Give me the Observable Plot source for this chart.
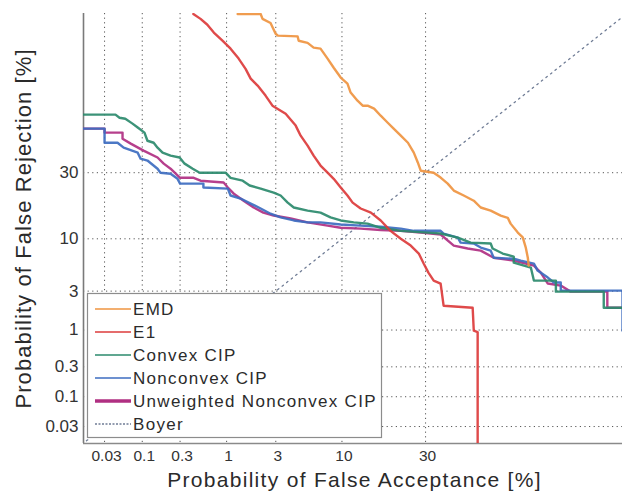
<!DOCTYPE html>
<html>
<head>
<meta charset="utf-8">
<script src="https://cdn.jsdelivr.net/npm/d3@7"></script>
<script src="https://cdn.jsdelivr.net/npm/@observablehq/plot@0.6"></script>
<style>
  html, body { margin: 0; padding: 0; background: #fff; }
  #chart { width: 623px; height: 499px; }
</style>
</head>
<body>
<div id="chart"></div>
<script>
// ---------- data (percentages) ----------
const xTicks = [0.03, 0.1, 0.3, 1, 3, 10, 30];
const yTicks = [0.03, 0.1, 0.3, 1, 3, 10, 30];
const xDomainPct = [0.0146, 89.6];
const yDomainPct = [0.0144, 90.3];
const xTitle = "Probability of False Acceptance [%]";
const yTitle = "Probability of False Rejection [%]";

const seriesNames = ["EMD", "E1", "Convex CIP", "Nonconvex CIP", "Unweighted Nonconvex CIP", "Boyer"];
const seriesColors = ["#ef9440", "#dc3b3b", "#2b8a6c", "#3d6cc0", "#b02f82", "#6f7c95"];

const emdFA = [1.3, 2.18, 2.27, 2.69, 2.99, 3.13, 4.62, 4.71, 5.56, 6.2, 7.0, 7.9, 8.75, 9.8, 10.9, 11.45, 12.7, 13.7, 14.7, 16.1, 17.6, 19.3, 20.8, 22.7, 24.7, 26.4, 27.6, 28.5, 32.6, 34.9, 37.3, 39.4, 42.9, 46.5, 49.0, 52.6, 56.2, 58.7, 59.7, 62.2, 63.9, 64.9, 65.6, 65.9];
const emdFR = [90.2, 90.2, 89.2, 88.3, 85.7, 85.2, 85.0, 83.8, 83.2, 81.8, 81.5, 78.3, 75.1, 71.4, 69.0, 65.3, 61.8, 59.6, 59.6, 58.3, 55.1, 51.9, 49.2, 46.0, 42.8, 38.4, 34.2, 30.8, 30.0, 28.1, 25.8, 23.3, 21.6, 19.9, 17.8, 16.9, 15.5, 14.9, 13.4, 11.3, 10.3, 8.4, 6.7, 5.6];

const e1FA = [0.43, 0.52, 0.62, 0.73, 0.91, 1.1, 1.33, 1.56, 1.75, 2.04, 2.42, 2.8, 3.66, 4.45, 4.89, 5.56, 6.2, 7.0, 7.9, 8.75, 9.8, 10.9, 11.8, 13.3, 15.4, 17.6, 20.0, 22.7, 25.5, 27.9, 29.4, 30.9, 32.6, 34.9, 35.9, 46.1, 46.5, 47.9, 47.9];
const e1FR = [90.2, 89.2, 87.9, 86.0, 83.8, 81.5, 78.3, 74.7, 71.0, 68.2, 64.0, 59.6, 56.0, 50.6, 46.0, 41.5, 37.1, 32.9, 30.0, 27.6, 24.4, 21.6, 19.3, 17.5, 16.3, 14.2, 11.7, 10.0, 8.7, 7.35, 5.88, 4.76, 3.92, 3.64, 2.03, 1.92, 0.98, 0.94, 0.01];

const convexFA = [0.014, 0.043, 0.049, 0.059, 0.074, 0.087, 0.107, 0.117, 0.141, 0.158, 0.183, 0.23, 0.296, 0.34, 0.423, 0.508, 0.976, 1.10, 1.46, 1.71, 2.18, 2.87, 3.31, 3.81, 4.29, 5.56, 7.0, 8.3, 9.8, 12.0, 14.7, 17.6, 22.7, 30.6, 34.9, 40.8, 45.4, 52.6, 53.3, 56.9, 60.8, 60.8, 66.6, 67.6, 74.4, 74.4, 86.2, 86.2, 91];
const convexFR = [55.6, 55.6, 54.2, 53.7, 51.5, 49.7, 47.4, 43.7, 42.8, 40.6, 38.4, 37.1, 36.3, 33.7, 31.6, 30.0, 30.0, 28.0, 26.9, 25.1, 24.0, 22.6, 21.6, 19.3, 17.8, 16.9, 16.3, 15.0, 14.2, 13.7, 13.4, 12.4, 11.7, 11.3, 11.1, 10.25, 9.26, 9.08, 8.18, 7.35, 6.87, 6.0, 5.36, 3.92, 3.92, 2.96, 2.96, 1.92, 1.92];

const nonconvexFA = [0.014, 0.030, 0.030, 0.046, 0.056, 0.087, 0.095, 0.117, 0.158, 0.172, 0.23, 0.28, 0.30, 0.56, 0.56, 1.03, 1.10, 1.39, 1.75, 2.18, 2.69, 3.31, 4.29, 5.56, 7.0, 9.8, 13.3, 17.6, 22.7, 26.4, 34.9, 35.9, 40.8, 41.8, 46.5, 49.0, 52.6, 53.7, 60.8, 63.2, 67.6, 68.8, 72.0, 73.8, 75.8, 75.8, 89.6, 89.6, 91];
const nonconvexFR = [49.2, 49.2, 42.8, 42.8, 40.6, 38.4, 35.8, 35.0, 31.6, 30.0, 29.6, 27.6, 25.8, 25.8, 24.4, 24.0, 21.6, 20.6, 19.0, 17.5, 16.0, 15.0, 14.2, 13.7, 13.7, 13.2, 12.9, 12.65, 12.2, 11.7, 11.7, 11.1, 10.25, 9.26, 9.08, 8.35, 7.83, 6.7, 6.55, 6.28, 5.88, 4.99, 4.22, 3.74, 3.74, 3.04, 3.04, 0.98, 0.98];

const unweightedFA = [0.014, 0.030, 0.030, 0.054, 0.054, 0.070, 0.104, 0.158, 0.189, 0.23, 0.30, 0.434, 0.52, 0.93, 1.03, 1.18, 1.49, 1.87, 2.31, 2.87, 4.04, 5.56, 7.9, 9.8, 13.3, 17.6, 22.7, 28.5, 34.9, 39.4, 44.3, 49.0, 53.7, 60.8, 67.6, 69.8, 72.0, 75.8, 78.5, 86.9, 86.9, 91];
const unweightedFR = [49.2, 49.2, 47.4, 47.4, 44.6, 42.4, 39.3, 36.3, 33.7, 31.6, 28.0, 28.0, 26.9, 26.2, 24.4, 22.3, 19.9, 17.8, 16.3, 15.5, 14.7, 13.7, 12.9, 12.4, 12.2, 11.9, 11.7, 11.3, 10.9, 8.7, 8.18, 7.83, 6.7, 6.28, 5.61, 4.76, 3.64, 3.46, 2.96, 2.96, 1.92, 1.92];

const diagonalPct = [0.01, 95];

// ---------- normal-deviate (DET) scale helper ----------
function probit(p) {
  const a = [-3.969683028665376e+01, 2.209460984245205e+02, -2.759285104469687e+02, 1.383577518672690e+02, -3.066479806614716e+01, 2.506628277459239e+00];
  const b = [-5.447609879822406e+01, 1.615858368580409e+02, -1.556989798598866e+02, 6.680131188771972e+01, -1.328068155288572e+01];
  const c = [-7.784894002430293e-03, -3.223964580411365e-01, -2.400758277161838e+00, -2.549732539343734e+00, 4.374664141464968e+00, 2.938163982698783e+00];
  const d = [7.784695709041462e-03, 3.224671290700398e-01, 2.445134137142996e+00, 3.754408661907416e+00];
  const pl = 0.02425, ph = 1 - pl;
  let q, r;
  if (p < pl) {
    q = Math.sqrt(-2 * Math.log(p));
    return (((((c[0]*q+c[1])*q+c[2])*q+c[3])*q+c[4])*q+c[5]) / ((((d[0]*q+d[1])*q+d[2])*q+d[3])*q+1);
  }
  if (p <= ph) {
    q = p - 0.5; r = q * q;
    return (((((a[0]*r+a[1])*r+a[2])*r+a[3])*r+a[4])*r+a[5])*q / (((((b[0]*r+b[1])*r+b[2])*r+b[3])*r+b[4])*r+1);
  }
  q = Math.sqrt(-2 * Math.log(1 - p));
  return -(((((c[0]*q+c[1])*q+c[2])*q+c[3])*q+c[4])*q+c[5]) / ((((d[0]*q+d[1])*q+d[2])*q+d[3])*q+1);
}
const P = v => probit(v / 100);

const toRows = (fa, fr) => fa.map((v, i) => ({fa: v, fr: fr[i]}));
const curves = [
  {name: "Unweighted Nonconvex CIP", rows: toRows(unweightedFA, unweightedFR), color: seriesColors[4]},
  {name: "Nonconvex CIP", rows: toRows(nonconvexFA, nonconvexFR), color: seriesColors[3]},
  {name: "Convex CIP", rows: toRows(convexFA, convexFR), color: seriesColors[2]},
  {name: "EMD", rows: toRows(emdFA, emdFR), color: seriesColors[0]},
  {name: "E1", rows: toRows(e1FA, e1FR), color: seriesColors[1]}
];

const gridStyle = {stroke: "#3a3a3a", strokeWidth: 1, strokeDasharray: "1.2,3.4", strokeOpacity: 0.85};

const chart = Plot.plot({
  width: 623,
  height: 499,
  marginLeft: 83,
  marginRight: 1,
  marginTop: 13,
  marginBottom: 56,
  x: {type: "linear", domain: xDomainPct.map(P), axis: null},
  y: {type: "linear", domain: yDomainPct.map(P), axis: null},
  style: {fontFamily: "'Liberation Sans', Arial, sans-serif", background: "#fff", color: "#2a2a2a"},
  marks: [
    Plot.ruleX(xTicks, {x: d => P(d), ...gridStyle}),
    Plot.ruleY(yTicks, {y: d => P(d), ...gridStyle}),
    Plot.line(diagonalPct, {x: d => P(d), y: d => P(d), stroke: "#6f7c95", strokeWidth: 1.3, strokeDasharray: "1.6,4.2", clip: true}),
    Plot.ruleX([xDomainPct[0]], {x: d => P(d), stroke: "#7a7a7a", strokeWidth: 1.6}),
    Plot.ruleY([yDomainPct[0]], {y: d => P(d), stroke: "#8a8a8a", strokeWidth: 1.6}),
    ...curves.map(c => Plot.line(c.rows, {
      x: d => P(d.fa), y: d => P(d.fr),
      stroke: c.color, strokeWidth: 2.4, strokeOpacity: 0.92, clip: true
    })),
    Plot.text(xTicks, {x: d => P(d), frameAnchor: "bottom", lineAnchor: "middle", dy: 13, dx: 2, text: d => String(d), fontSize: 15.5, fill: "#333"}),
    Plot.text(yTicks, {y: d => P(d), frameAnchor: "left", lineAnchor: "middle", dx: -5, textAnchor: "end", text: d => String(d), fontSize: 17, fill: "#333"}),
    Plot.text([xTitle], {frameAnchor: "bottom", lineAnchor: "middle", textAnchor: "middle", dy: 37, dx: 1.5, fontSize: 21, fill: "#2a2a2a"}),
    Plot.text([yTitle], {frameAnchor: "left", lineAnchor: "middle", textAnchor: "middle", dx: -60, rotate: -90, fontSize: 22, fill: "#2a2a2a"})
  ]
});

document.getElementById("chart").appendChild(chart);

const svg = d3.select(chart);
svg.selectAll("text").filter(function() { return this.textContent === xTitle; })
  .style("letter-spacing", "1.3px");
svg.selectAll("text").filter(function() { return this.textContent === yTitle; })
  .style("letter-spacing", "1.1px");

// ---------- legend ----------
const lg = svg.append("g")
  .attr("font-family", "'Liberation Sans', Arial, sans-serif")
  .attr("text-anchor", "start");
lg.append("rect")
  .attr("x", 87.5).attr("y", 293.5).attr("width", 294).attr("height", 144)
  .attr("fill", "#fff").attr("stroke", "#8c8c8c").attr("stroke-width", 1.2);
const legendWidths = [1.6, 1.6, 1.6, 1.6, 3.6, 1.6];
const legendDash = [null, null, null, null, null, "2,1.5"];
seriesNames.forEach((name, i) => {
  const cy = 309 + i * 23;
  const ln = lg.append("line")
    .attr("x1", 95).attr("x2", 131).attr("y1", cy).attr("y2", cy)
    .attr("stroke", seriesColors[i]).attr("stroke-width", legendWidths[i]);
  if (legendDash[i]) ln.attr("stroke-dasharray", legendDash[i]);
  lg.append("text")
    .attr("x", 133).attr("y", cy).attr("dy", "0.36em")
    .attr("text-anchor", "start")
    .attr("font-size", 17).attr("letter-spacing", "1.3px")
    .attr("fill", "#2b2b2b").text(name);
});
</script>
</body>
</html>
